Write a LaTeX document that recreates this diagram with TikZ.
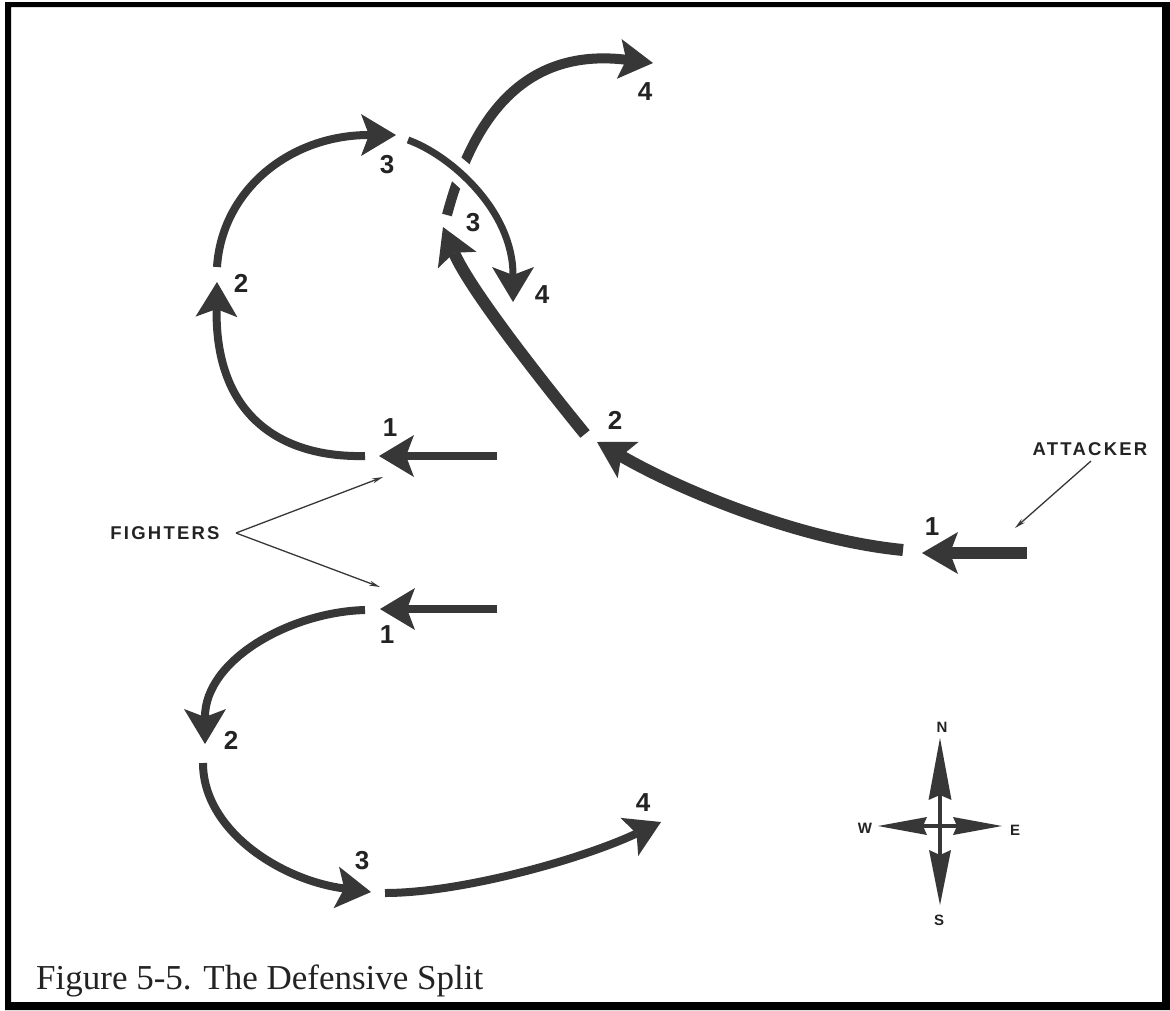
\documentclass[tikz,border=0pt]{standalone}
\usepackage{fontspec}
\setmainfont{Liberation Serif}
\newfontfamily\lblfont{Liberation Sans}
\usetikzlibrary{arrows.meta}
\definecolor{ink}{RGB}{55,55,55}
\definecolor{txt}{RGB}{35,35,35}
\begin{document}
\begin{tikzpicture}[x=1pt,y=-1pt,
  fpath/.style={draw=ink, line width=8pt},
  apath/.style={draw=ink, line width=12pt},
  fhead/.style={-{Stealth[length=35pt,width=42pt,inset=8pt,line width=0pt]}},
  ahead/.style={-{Stealth[length=36pt,width=42pt,inset=8pt,line width=0pt]}},
  cmp/.style={draw=ink, line width=4.5pt},
  ptr/.style={draw=ink, line width=1.3pt, -{Stealth[length=11pt,width=5pt,line width=0pt]}},
  num/.style={font=\lblfont\bfseries\fontsize{26}{26}\selectfont, text=txt, inner sep=0pt},
  tag/.style={font=\lblfont\bfseries\fontsize{18.5}{18.5}\selectfont\addfontfeature{LetterSpace=12}, text=txt, inner sep=0pt},
  dir/.style={font=\lblfont\bfseries\fontsize{15}{15}\selectfont, text=txt, inner sep=0pt}
]
\useasboundingbox (0,0) rectangle (1170,1010);
\fill[white] (0,0) rectangle (1170,1010);
% frame
\fill[black, even odd rule] (5,2) rectangle (1170,1010) (11,7) rectangle (1162,1002);

% ---------- coordinates ----------
% upper fighter
\coordinate (u1s) at (497,456); \coordinate (u1t) at (379,456);
\coordinate (u2s) at (365,456); \coordinate (u2t) at (217,282);
\coordinate (u3s) at (217,267); \coordinate (u3t) at (396,135);
\coordinate (u4s) at (408,140); \coordinate (u4t) at (513,302);
% attacker
\coordinate (a1s) at (1027,553); \coordinate (a1t) at (922,553);
\coordinate (a2s) at (903,550);  \coordinate (a2t) at (597,442);
\coordinate (a3s) at (585,434);  \coordinate (a3t) at (443,227);
\coordinate (a4s) at (447,215);  \coordinate (a4t) at (653,63);
% lower fighter
\coordinate (l1s) at (497,609); \coordinate (l1t) at (380,609);
\coordinate (l2s) at (365,610); \coordinate (l2t) at (205,744);
\coordinate (l3s) at (203,763); \coordinate (l3t) at (371,892);
\coordinate (l4s) at (385,893); \coordinate (l4t) at (661,822);

% ---------- attacker ----------
\draw[apath, ahead] (a1s) -- (a1t);
\draw[apath, ahead] (a2s) .. controls (800,540) and (680,490) .. (a2t);
\draw[apath, ahead] (a3s) .. controls (545,385) and (470,290) .. (a3t);
\draw[draw=ink, line width=10pt, -{Stealth[length=34pt,width=40pt,inset=7pt,line width=0pt]}]
  (a4s) .. controls (480,90) and (545,50) .. (a4t);

% ---------- upper fighter ----------
\draw[fpath, fhead] (u1s) -- (u1t);
\draw[fpath, fhead] (u2s) .. controls (280,458) and (215,415) .. (u2t);
\draw[fpath, fhead] (u3s) .. controls (222,190) and (290,135) .. (u3t);
% gap where the attacker passes under
\draw[white, line width=24pt] (u4s) .. controls (450,155) and (513,210) .. (513,268);
\draw[draw=ink, line width=7pt, fhead] (u4s) .. controls (450,155) and (513,210) .. (u4t);

% ---------- lower fighter ----------
\draw[fpath, fhead] (l1s) -- (l1t);
\draw[fpath, fhead] (l2s) .. controls (290,612) and (205,660) .. (l2t);
\draw[fpath, fhead] (l3s) .. controls (203,830) and (280,880) .. (l3t);
\draw[fpath, fhead] (l4s) .. controls (460,893) and (580,860) .. (l4t);

% ---------- numbers ----------
\node[num] (nu1) at (390,428) {1};
\node[num] (nu2) at (241,283) {2};
\node[num] (nu3) at (387,165) {3};
\node[num] (nu4) at (542,295) {4};
\node[num] (na1) at (932,527) {1};
\node[num] (na2) at (615,420) {2};
\node[num] (na3) at (473,223) {3};
\node[num] (na4) at (645,92) {4};
\node[num] (nl1) at (387,635) {1};
\node[num] (nl2) at (231,740) {2};
\node[num] (nl3) at (362,861) {3};
\node[num] (nl4) at (643,803) {4};

% ---------- labels and pointers ----------
\node[tag] (fighters) at (165,533) {FIGHTERS};
\coordinate (fsplit) at (236,533);
\coordinate (fup) at (383,477);
\coordinate (fdn) at (380,587);
\draw[ptr] (fsplit) -- (fup);
\draw[ptr] (fsplit) -- (fdn);

\node[tag] (attacker) at (1090,449) {ATTACKER};
\coordinate (apt) at (1091,461);
\coordinate (atip) at (1015,528);
\draw[ptr] (apt) -- (atip);

% ---------- compass ----------
\coordinate (cc) at (940,826);
\coordinate (cn) at (940,738);
\coordinate (cs) at (940,905);
\coordinate (cw) at (878,826);
\coordinate (ce) at (1002,826);
\draw[cmp, -{Stealth[length=62pt,width=23pt,inset=5pt,line width=0pt]}] (cc) -- (cn);
\draw[cmp, -{Stealth[length=55pt,width=22pt,inset=5pt,line width=0pt]}] (cc) -- (cs);
\draw[cmp, -{Stealth[length=49pt,width=18pt,inset=4pt,line width=0pt]}] (cc) -- (cw);
\draw[cmp, -{Stealth[length=49pt,width=18pt,inset=4pt,line width=0pt]}] (cc) -- (ce);
\node[dir] (dn) at (942,727) {N};
\node[dir] (ds) at (939,920) {S};
\node[dir] (dw) at (865,828) {W};
\node[dir] (de) at (1015,830) {E};

% ---------- caption ----------
\node[anchor=base west, inner sep=0pt, text=txt,
      font=\fontsize{35}{35}\selectfont] (caption) at (36,989) {Figure 5-5. The Defensive Split};
\end{tikzpicture}
\end{document}
